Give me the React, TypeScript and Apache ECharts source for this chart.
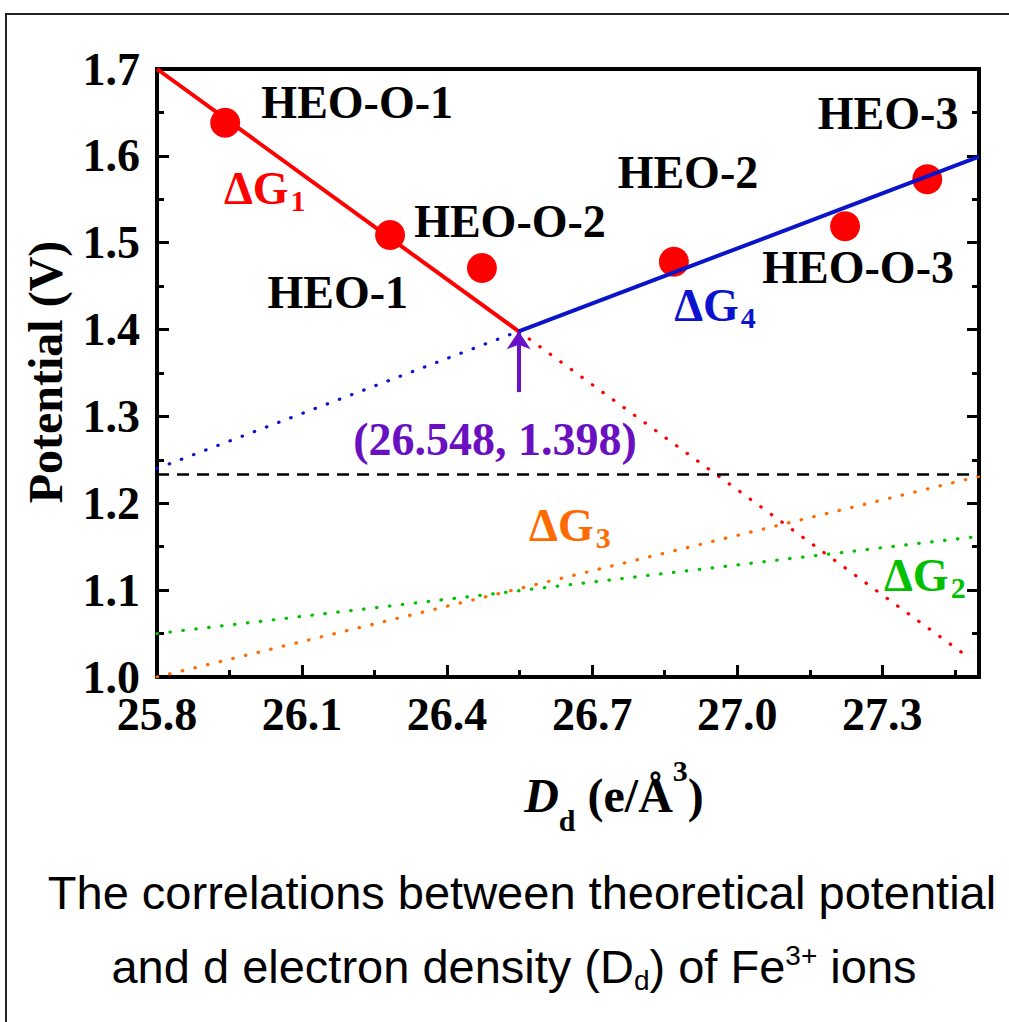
import React, { useEffect, useRef } from 'react';
import * as echarts from 'echarts';

// ---- data ----
const xMin = 25.8;
const xMax = 27.5;
const yMin = 1.0;
const yMax = 1.7;

const sampleX = [25.941, 26.282, 26.472, 26.869, 27.223, 27.393];
const sampleY = [1.638, 1.509, 1.471, 1.478, 1.519, 1.573];

const sampleNames = ['HEO-O-1', 'HEO-1', 'HEO-O-2', 'HEO-2', 'HEO-O-3', 'HEO-3'];
const sampleNameX = [26.214, 26.174, 26.530, 26.898, 27.250, 27.312];
const sampleNameY = [1.661, 1.443, 1.524, 1.581, 1.471, 1.649];

const g1Solid = [[25.8, 1.7], [26.548, 1.398]];
const g1Dotted = [[26.548, 1.398], [27.47, 1.026]];
const g4Solid = [[26.548, 1.398], [27.5, 1.599]];
const g4Dotted = [[25.8, 1.24], [26.548, 1.398]];
const g3Dotted = [[25.8, 1.0], [27.5, 1.231]];
const g2Dotted = [[25.8, 1.05], [27.5, 1.162]];
const refLine = [[25.8, 1.233], [27.5, 1.233]];

const crossPoint = [26.548, 1.398];
const arrowStart = [26.548, 1.328];
const crossLabel = '(26.548, 1.398)';
const crossLabelPos = [26.499, 1.273];

const gLabels = ['1', '4', '3', '2'];
const gLabelX = [26.023, 26.954, 26.654, 27.388];
const gLabelY = [1.56, 1.425, 1.172, 1.114];
const gColors = ['#ff0000', '#0a14d0', '#ff6a00', '#00c000'];

const SERIF = '"Liberation Serif", "Times New Roman", serif';
const SANS = '"Liberation Sans", Arial, sans-serif';

export default function App() {
  const ref = useRef<HTMLDivElement>(null);
  useEffect(() => {
    if (!ref.current) return;
    const chart = echarts.init(ref.current, undefined, { renderer: 'svg' });

    const dotted = (data: number[][], color: string) => ({
      type: 'line',
      data,
      symbol: 'none',
      z: 3,
      lineStyle: { color, width: 3.2, type: [0.5, 12.5], cap: 'round' },
    });

    const labelSeriesBase = {
      type: 'scatter',
      symbolSize: 1,
      itemStyle: { color: 'rgba(0,0,0,0)', opacity: 1 },
      z: 5,
    };

    const option: any = {
      animation: false,
      backgroundColor: '#fff',
      grid: {
        left: 157,
        top: 69,
        width: 822,
        height: 608,
        show: true,
        borderColor: '#000',
        borderWidth: 4,
        backgroundColor: 'transparent',
      },
      xAxis: [
        {
          type: 'value',
          min: xMin,
          max: xMax,
          interval: 0.3,
          position: 'bottom',
          axisLine: { show: false },
          axisTick: { show: true, inside: true, length: 12, lineStyle: { width: 3, color: '#000' } },
          axisLabel: {
            show: true,
            showMaxLabel: false,
            margin: 19,
            lineHeight: 36,
            color: '#000',
            fontSize: 46,
            fontWeight: 'bold',
            fontFamily: SERIF,
            formatter: (v: number) => v.toFixed(1),
          },
          splitLine: { show: false },
        },
        {
          type: 'value',
          min: xMin,
          max: xMax,
          interval: 0.15,
          position: 'bottom',
          axisLine: { show: false },
          axisTick: { show: true, inside: true, length: 7, lineStyle: { width: 3, color: '#000' } },
          axisLabel: { show: false },
          splitLine: { show: false },
        },
      ],
      yAxis: [
        {
          type: 'value',
          min: yMin,
          max: yMax,
          interval: 0.1,
          position: 'left',
          axisLine: { show: false },
          axisTick: { show: true, inside: true, length: 12, lineStyle: { width: 3, color: '#000' } },
          minorTick: { show: true, splitNumber: 2, length: 7, lineStyle: { width: 3, color: '#000' } },
          axisLabel: {
            margin: 17,
            lineHeight: 36,
            color: '#000',
            fontSize: 46,
            fontWeight: 'bold',
            fontFamily: SERIF,
            formatter: (v: number) => v.toFixed(1),
          },
          splitLine: { show: false },
        },
        {
          type: 'value',
          min: yMin,
          max: yMax,
          interval: 0.1,
          position: 'right',
          axisLine: { show: false },
          axisTick: { show: true, inside: true, length: 12, lineStyle: { width: 3, color: '#000' } },
          minorTick: { show: true, splitNumber: 2, length: 7, lineStyle: { width: 3, color: '#000' } },
          axisLabel: { show: false },
          splitLine: { show: false },
        },
      ],
      series: [
        {
          type: 'scatter',
          data: sampleX.map((x, i) => [x, sampleY[i]]),
          symbol: 'circle',
          symbolSize: 30,
          itemStyle: { color: '#ff0000', opacity: 1 },
          z: 2,
        },
        dotted(g4Dotted, '#0a14d0'),
        dotted(g1Dotted, '#ff0000'),
        dotted(g3Dotted, '#ff6a00'),
        dotted(g2Dotted, '#00c000'),
        {
          type: 'line',
          data: refLine,
          symbol: 'none',
          z: 3,
          lineStyle: { color: '#000', width: 2.5, type: [12, 8] },
        },
        {
          type: 'line',
          data: g1Solid,
          symbol: 'none',
          z: 4,
          lineStyle: { color: '#ff0000', width: 4 },
        },
        {
          type: 'line',
          data: g4Solid,
          symbol: 'none',
          z: 4,
          lineStyle: { color: '#0a14c8', width: 4 },
        },
        {
          type: 'lines',
          coordinateSystem: 'cartesian2d',
          z: 4,
          symbol: ['none', 'arrow'],
          symbolSize: 18,
          lineStyle: { color: '#6a10c8', width: 4, opacity: 1 },
          data: [{ coords: [arrowStart, crossPoint] }],
        },
        {
          ...labelSeriesBase,
          data: sampleNames.map((n, i) => ({ value: [sampleNameX[i], sampleNameY[i]], name: n })),
          label: {
            show: true,
            position: 'inside',
            formatter: (p: any) => p.name,
            color: '#000',
            fontSize: 46,
            fontWeight: 'bold',
            fontFamily: SERIF,
          },
        },
        {
          ...labelSeriesBase,
          data: [{ value: crossLabelPos, name: crossLabel }],
          label: {
            show: true,
            position: 'inside',
            formatter: (p: any) => p.name,
            color: '#6a10c0',
            fontSize: 46,
            fontWeight: 'bold',
            fontFamily: SERIF,
          },
        },
        {
          ...labelSeriesBase,
          data: gLabels.map((s, i) => ({
            value: [gLabelX[i], gLabelY[i]],
            name: s,
            label: {
              show: true,
              position: 'inside',
              formatter: '{g|ΔG}{s|' + s + '}',
              rich: {
                g: { fontSize: 46, fontWeight: 'bold', fontFamily: SERIF, color: gColors[i], verticalAlign: 'top', lineHeight: 50 },
                s: { fontSize: 30, fontWeight: 'bold', fontFamily: SERIF, color: gColors[i], verticalAlign: 'bottom', lineHeight: 32, padding: [40, 0, 0, 2] },
              },
            },
          })),
        },
      ],
      graphic: [
        {
          type: 'rect',
          shape: { x: 6, y: 14, width: 1100, height: 1100 },
          style: { fill: 'none', stroke: '#222', lineWidth: 2 },
          z: 0,
        },
        {
          type: 'text',
          x: 45,
          y: 372,
          rotation: Math.PI / 2,
          style: {
            text: 'Potential (V)',
            fontSize: 48,
            fontWeight: 'bold',
            fontFamily: SERIF,
            fill: '#000',
            align: 'center',
            verticalAlign: 'middle',
          },
        },
        {
          type: 'text',
          x: 614,
          y: 795,
          style: {
            text: '{d|D}{s|d}{n| (e/Å}{p|3}{n|)}',
            align: 'center',
            verticalAlign: 'middle',
            rich: {
              d: { fontSize: 48, fontWeight: 'bold', fontStyle: 'italic', fontFamily: SERIF, fill: '#000', verticalAlign: 'middle' },
              s: { fontSize: 30, fontWeight: 'bold', fontFamily: SERIF, fill: '#000', verticalAlign: 'bottom', padding: [50, 0, 0, 0] },
              n: { fontSize: 48, fontWeight: 'bold', fontFamily: SERIF, fill: '#000', verticalAlign: 'middle' },
              p: { fontSize: 30, fontWeight: 'bold', fontFamily: SERIF, fill: '#000', verticalAlign: 'top', padding: [0, 0, 24, 0] },
            },
          },
        },
        {
          type: 'text',
          x: 522,
          y: 892,
          style: {
            text: 'The correlations between theoretical potential',
            fontSize: 47,
            fontFamily: SANS,
            fill: '#000',
            align: 'center',
            verticalAlign: 'middle',
          },
        },
        {
          type: 'text',
          x: 514,
          y: 966,
          style: {
            text: '{n|and d electron density (D}{s|d}{n|) of Fe}{p|3+}{n| ions}',
            align: 'center',
            verticalAlign: 'middle',
            rich: {
              n: { fontSize: 47, fontFamily: SANS, fill: '#000', verticalAlign: 'middle' },
              s: { fontSize: 28, fontFamily: SANS, fill: '#000', verticalAlign: 'middle', padding: [28, 0, 0, 0] },
              p: { fontSize: 28, fontFamily: SANS, fill: '#000', verticalAlign: 'middle', padding: [0, 0, 22, 0] },
            },
          },
        },
      ],
    };

    chart.setOption(option);
    return () => chart.dispose();
  }, []);

  return (
    <div
      ref={ref}
      style={{ position: 'absolute', left: 0, top: 0, width: 1009, height: 1022 }}
    />
  );
}
